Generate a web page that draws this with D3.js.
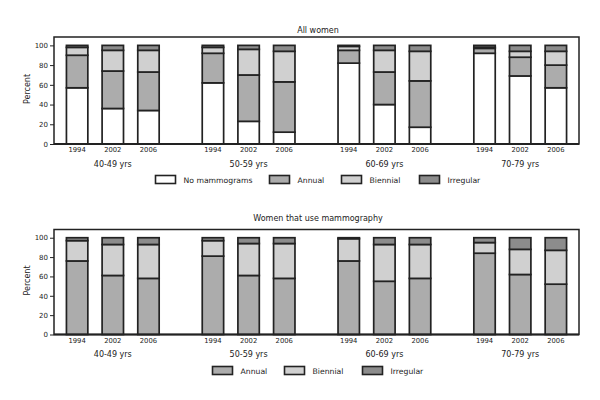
<!DOCTYPE html>
<html><head><meta charset="utf-8">
<script src="https://cdn.jsdelivr.net/npm/d3@7"></script>
<style>body{margin:0;background:#fff}svg{display:block}text{font-family:"DejaVu Sans",sans-serif;fill:#222}</style>
</head><body>
<script>
const groups = ["40-49 yrs","50-59 yrs","60-69 yrs","70-79 yrs"];
const years = ["1994","2002","2006"];
const yTicks = [0,20,40,60,80,100];

// Panel 1: All women (order: group x year)
const allNone      = [57,36,34, 62,23,12, 82,40,17, 92,69,57];
const allAnnual    = [33,38,39, 30,47,51, 13,33,47,  5,19,23];
const allBiennial  = [ 8,21,22,  6,26,31,  4,22,30,  1, 6,14];
const allIrregular = [ 2, 5, 5,  2, 4, 6,  1, 5, 6,  2, 6, 6];

// Panel 2: Women that use mammography
const useAnnual    = [76,61,58, 81,61,58, 76,55,58, 84,62,52];
const useBiennial  = [21,32,35, 16,33,36, 23,38,35, 11,26,35];
const useIrregular = [ 3, 7, 7,  3, 6, 6,  1, 7, 7,  5,12,13];

const colors = {"No mammograms":"#ffffff","Annual":"#acacac","Biennial":"#d0d0d0","Irregular":"#8c8c8c"};

const W=600,H=400;
const svg=d3.select("body").append("svg").attr("width",W).attr("height",H);

const x0=d3.scalePoint().domain(groups).range([54,579]).padding(0.433);
const x1=d3.scaleBand().domain(years).range([-53.5,53.5]).paddingInner(0.4).paddingOuter(0.2);

function panel(opt){
  const y=d3.scaleLinear().domain([0,108.5]).range([opt.bottom,opt.top]);
  const g=svg.append("g");
  g.append("text").attr("x",318).attr("y",opt.titleY).attr("text-anchor","middle")
    .style("font-size","8px").text(opt.title);
  g.append("rect").attr("x",54).attr("y",opt.top).attr("width",525).attr("height",opt.bottom-opt.top)
    .attr("fill","none").attr("stroke","#222").attr("stroke-width",1.5);
  const ax=g.append("g").attr("transform","translate(54,0)")
    .call(d3.axisLeft(y).tickValues(yTicks).tickSize(4).tickPadding(2));
  ax.select(".domain").remove();
  ax.selectAll("line").attr("stroke","#222");
  ax.selectAll("text").style("font-size","7px").style("font-family","DejaVu Sans").attr("fill","#222");
  g.append("text").attr("transform",`translate(29.5,${(opt.top+opt.bottom)/2-1.5}) rotate(-90)`)
    .attr("text-anchor","middle").style("font-size","8px").text("Percent");
  const rows=[];
  groups.forEach((gr,gi)=>years.forEach((yr,yi)=>{
    const i=gi*3+yi; const r={group:gr,year:yr};
    opt.keys.forEach((k,ki)=>r[k]=opt.series[ki][i]);
    rows.push(r);
  }));
  const stack=d3.stack().keys(opt.keys)(rows);
  stack.forEach(layer=>{
    g.append("g").selectAll("rect").data(layer).join("rect")
      .attr("x",d=>x0(d.data.group)+x1(d.data.year))
      .attr("width",x1.bandwidth())
      .attr("y",d=>y(d[1])).attr("height",d=>y(d[0])-y(d[1]))
      .attr("fill",colors[layer.key]).attr("stroke","#222").attr("stroke-width",1.7);
  });
  g.append("line").attr("x1",54).attr("x2",579).attr("y1",opt.bottom).attr("y2",opt.bottom)
    .attr("stroke","#222").attr("stroke-width",2);
  rows.forEach(r=>{
    g.append("text").attr("x",x0(r.group)+x1(r.year)+x1.bandwidth()/2).attr("y",opt.bottom+8)
      .attr("text-anchor","middle").style("font-size","6.8px").text(r.year);
  });
  groups.forEach(gr=>{
    g.append("text").attr("x",x0(gr)).attr("y",opt.bottom+22.5).attr("text-anchor","middle")
      .style("font-size","8px").text(gr);
  });
  opt.keys.forEach((k,i)=>{
    const lx=opt.legendX[i];
    g.append("rect").attr("x",lx).attr("y",opt.legendY).attr("width",20).attr("height",8)
      .attr("fill",colors[k]).attr("stroke","#222").attr("stroke-width",1.6);
    g.append("text").attr("x",lx+28).attr("y",opt.legendY+7.5).style("font-size","7.7px").text(k);
  });
}

panel({title:"All women",titleY:33,top:37,bottom:144,
  keys:["No mammograms","Annual","Biennial","Irregular"],
  series:[allNone,allAnnual,allBiennial,allIrregular],
  legendX:[155.5,269.5,341.5,419.5],legendY:175.5});
panel({title:"Women that use mammography",titleY:220.5,top:229.5,bottom:334.5,
  keys:["Annual","Biennial","Irregular"],
  series:[useAnnual,useBiennial,useIrregular],
  legendX:[212.5,284.5,362.5],legendY:366.5});
</script>
</body></html>
